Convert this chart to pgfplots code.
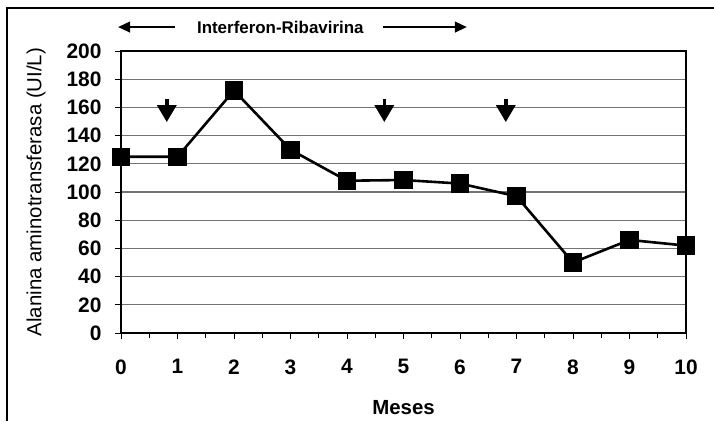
\documentclass[border=0pt]{standalone}
\usepackage{fontspec}
\setmainfont{Liberation Sans}
\usepackage{pgfplots}
\pgfplotsset{compat=1.18}
\usetikzlibrary{arrows.meta}
\begin{document}
\begin{tikzpicture}[x=1bp,y=1bp]
\useasboundingbox (0,0) rectangle (714,-421);
\draw[line width=1.5bp] (7,-421) -- (7,-8) -- (714,-8);
\begin{axis}[
  at={(121bp,-333bp)}, anchor=south west,
  scale only axis, width=565bp, height=282bp,
  xmin=0,xmax=10,ymin=0,ymax=200,
  xtick={0,...,10}, ytick={0,20,...,200},
  minor x tick num=1,
  tick align=outside, tick pos=left,
  major tick length=6bp, minor tick length=5bp,
  ymajorgrids, major grid style={black!55, line width=1.1bp},
  axis line style={line width=2.4bp},
  every tick/.style={black, line width=1bp},
  /pgf/number format/assume math mode=true,
  tick label style={font=\fontsize{21}{25}\selectfont\bfseries},
  xticklabel style={yshift=-17bp},
  yticklabel style={xshift=-10bp},
  xlabel={Meses},
  xlabel style={font=\fontsize{20.5}{24}\selectfont\bfseries, at={(axis description cs:0.5,-0.266)}, anchor=center},
  ylabel={Alanina aminotransferasa (UI/L)},
  ylabel style={font=\fontsize{20.5}{24}\selectfont, at={(axis description cs:-0.1504,0.5)}, anchor=center},
  clip=false,
]
\addplot[black, line width=2.6bp, mark=square*, mark size=7.8bp, mark options={solid}] coordinates {(0,125)(1,125)(2,172)(3,130)(4,108)(5,108.5)(6,106)(7,97)(8,50)(9,66)(10,62)};
\draw[line width=3.5bp, -{Triangle[width=19bp,length=17bp]}] (axis cs:0.81,166) -- (axis cs:0.81,149.6);
\draw[line width=3.5bp, -{Triangle[width=19bp,length=17bp]}] (axis cs:4.66,166) -- (axis cs:4.66,149.6);
\draw[line width=3.5bp, -{Triangle[width=19bp,length=17bp]}] (axis cs:6.81,166) -- (axis cs:6.81,149.6);
\draw[line width=1.4bp, -{Triangle[width=11bp,length=12bp]}] (axis cs:0.956,217) -- (axis cs:-0.05,217);
\draw[line width=1.4bp, -{Triangle[width=11bp,length=12bp]}] (axis cs:4.64,217) -- (axis cs:6.12,217);
\node[font=\fontsize{17}{20}\selectfont\bfseries] at (axis cs:2.82,216.5) {Interferon-Ribavirina};
\end{axis}
\end{tikzpicture}
\end{document}
